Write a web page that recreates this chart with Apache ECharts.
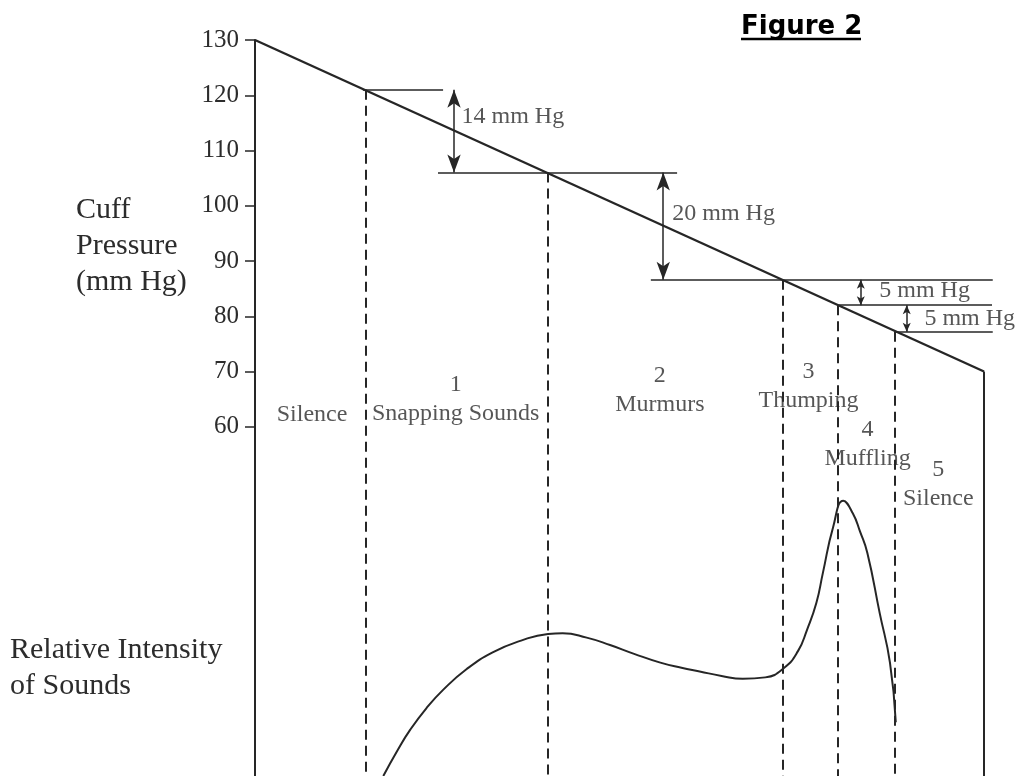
<!DOCTYPE html>
<html><head><meta charset="utf-8">
<script src="https://cdn.jsdelivr.net/npm/echarts@6/dist/echarts.min.js"></script>
<style>html,body{margin:0;padding:0;background:#fff}#c{width:1022px;height:776px}</style>
</head><body><div id="c"></div>
<script>
// ---------- values ----------
const pressureTicks = [60, 70, 80, 90, 100, 110, 120, 130];
const cuffTime = [0, 100];                 // arbitrary time units
const cuffPressure = [130, 70];            // mm Hg
const boundaryTime = [15.2, 40.2, 72.4, 80.0, 87.8];
const boundaryPressure = [121, 106, 86.6, 82, 77.2];
const levelStart = [14.8, 25.1, 54.3, 80.0, 87.8];
const levelEnd = [25.8, 57.9, 101.2, 101.1, 101.2];
const gapTime = [27.3, 56.0, 83.1, 89.4];
const gapLabels = ['14 mm Hg', '20 mm Hg', '5 mm Hg', '5 mm Hg'];
const gapLabelTime = [28.4, 57.3, 85.7, 91.9];
const gapLabelPressure = [116.1, 98.5, 84.6, 79.5];
const phaseLabels = ['Silence', '1\nSnapping Sounds', '2\nMurmurs', '3\nThumping', '4\nMuffling', '5\nSilence'];
const phaseLabelTime = [7.9, 27.6, 55.6, 76.0, 84.1, 93.8];
const phaseLabelPressure = [62.1, 64.9, 66.5, 67.2, 56.7, 49.5];
const intensityTime = [17.6, 19.5, 21.3, 23.5, 25.8, 29.0, 32.6, 36.5, 40.2, 42.2, 45.5, 48.7, 52.0, 55.6, 58.5, 61.0, 64.0, 66.9, 70.0, 72.6, 74.5, 75.7, 77.0, 77.9, 79.3, 80.7, 82.0, 83.0, 84.0, 85.7, 87.1, 87.9];
const intensityValue = [0, 3.4, 6.3, 9.2, 11.7, 14.5, 16.8, 18.4, 19.3, 19.4, 18.8, 17.8, 16.6, 15.4, 14.7, 14.2, 13.6, 13.2, 13.4, 14.7, 17.0, 19.8, 23.5, 27.6, 33.8, 37.4, 35.7, 33.2, 30.3, 22.1, 15.4, 7.3];

// ---------- chart ----------
const P_MIN = -3.2, P_MAX = 130;
const LINE = '#262626', TEXT = '#2c2c2c', SERIF = '"Liberation Serif", "Times New Roman", serif';
const chart = echarts.init(document.getElementById('c'), null, {renderer: 'canvas'});

const markData = [];
boundaryTime.forEach((t, i) => {
  markData.push([{coord: [t, boundaryPressure[i]], lineStyle: {type: [10, 6], width: 2, color: LINE}}, {coord: [t, P_MIN]}]);
});
markData.push([{coord: [cuffTime[1], cuffPressure[1]], lineStyle: {type: 'solid', width: 2, color: LINE}}, {coord: [cuffTime[1], P_MIN]}]);
boundaryPressure.forEach((p, i) => {
  markData.push([{coord: [levelStart[i], p], lineStyle: {type: 'solid', width: 1.6, color: LINE}}, {coord: [levelEnd[i], p]}]);
});
gapTime.forEach((t, i) => {
  const sz = i < 2 ? [10, 18] : [6, 9];
  markData.push([
    {coord: [t, boundaryPressure[i]], symbol: 'arrow', symbolSize: sz, lineStyle: {type: 'solid', width: 1.5, color: LINE}},
    {coord: [t, boundaryPressure[i + 1]], symbol: 'arrow', symbolSize: sz}
  ]);
});

chart.setOption({
  animation: false,
  backgroundColor: '#fff',
  grid: {left: 255, top: 40, width: 758.16, height: 736, containLabel: false},
  xAxis: {type: 'value', min: 0, max: 104, show: false},
  yAxis: [{
    type: 'value', min: P_MIN, max: P_MAX, position: 'left',
    axisLine: {show: true, lineStyle: {color: LINE, width: 2}},
    axisTick: {show: true, customValues: pressureTicks, length: 10, lineStyle: {color: LINE, width: 1.5}},
    axisLabel: {show: true, customValues: pressureTicks, margin: 16, fontSize: 25, fontFamily: SERIF, color: TEXT},
    splitLine: {show: false}
  }, {
    type: 'value', min: 0, max: 100, show: false
  }],
  graphic: [
    {type: 'text', left: 76, top: 192, style: {text: 'Cuff\nPressure\n(mm Hg)', font: '30px ' + SERIF, fill: TEXT, lineHeight: 36}},
    {type: 'text', left: 10, top: 632, style: {text: 'Relative Intensity\nof Sounds', font: '30px ' + SERIF, fill: TEXT, lineHeight: 36}},
    {type: 'text', left: 741, top: 14, style: {text: 'Figure 2', font: 'bold 26px "DejaVu Sans", Verdana, sans-serif', fill: '#000'}},
    {type: 'line', shape: {x1: 741, y1: 39, x2: 861, y2: 39}, style: {stroke: '#000', lineWidth: 2.5}}
  ],
  series: [
    {
      name: 'Cuff pressure', type: 'line', yAxisIndex: 0,
      data: cuffTime.map((t, i) => [t, cuffPressure[i]]),
      symbol: 'none', lineStyle: {color: LINE, width: 2.4}, silent: true, z: 5,
      markLine: {silent: true, symbol: 'none', label: {show: false}, emphasis: {disabled: true}, data: markData, animation: false}
    },
    {
      name: 'Relative intensity', type: 'line', yAxisIndex: 1,
      data: intensityTime.map((t, i) => [t, intensityValue[i]]),
      symbol: 'none', smooth: 0.5, lineStyle: {color: LINE, width: 2}, silent: true
    },
    {
      name: 'phases', type: 'scatter', yAxisIndex: 0, symbolSize: 1, itemStyle: {color: 'rgba(0,0,0,0)'}, silent: true,
      data: phaseLabels.map((n, i) => ({name: n, value: [phaseLabelTime[i], phaseLabelPressure[i]]})),
      label: {show: true, formatter: '{b}', position: [0, 0], align: 'center', verticalAlign: 'middle', fontSize: 24, lineHeight: 29, fontFamily: SERIF, color: TEXT}
    },
    {
      name: 'gaps', type: 'scatter', yAxisIndex: 0, symbolSize: 1, itemStyle: {color: 'rgba(0,0,0,0)'}, silent: true,
      data: gapLabels.map((n, i) => ({name: n, value: [gapLabelTime[i], gapLabelPressure[i]]})),
      label: {show: true, formatter: '{b}', position: [0, 0], align: 'left', verticalAlign: 'middle', fontSize: 24, fontFamily: SERIF, color: TEXT}
    }
  ]
});
</script></body></html>
